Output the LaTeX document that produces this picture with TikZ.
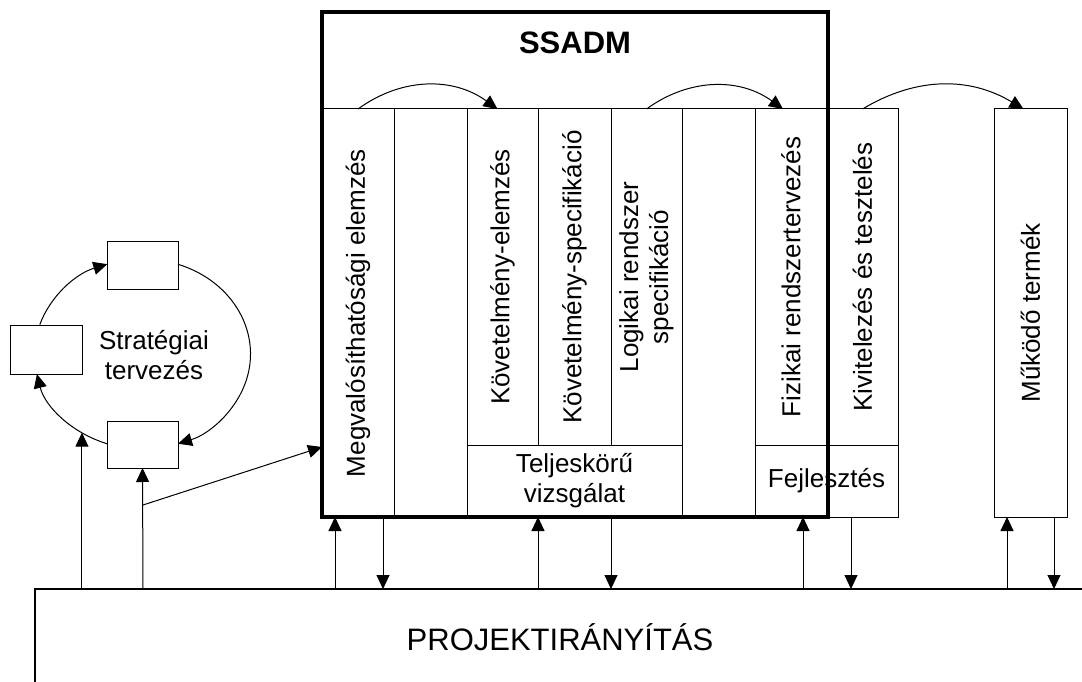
\documentclass[tikz,border=0pt]{standalone}
\usepackage{fontspec}
\setmainfont{Liberation Sans}
\usetikzlibrary{arrows.meta}
\begin{document}
\begin{tikzpicture}[x=1pt,y=1pt,
  cell/.style={draw, line width=1pt, anchor=north west, inner sep=0pt, outer sep=0pt},
  sbox/.style={draw, line width=1pt, inner sep=0pt, outer sep=0pt},
  lbl/.style={font=\fontsize{26}{30}\selectfont, align=center, inner sep=0pt},
  arr/.style={line width=1pt, -{Triangle[length=14pt,width=13pt]}},
  ]
\useasboundingbox (0,0) rectangle (1082,-682);
\clip (0,0) rectangle (1082,-682);
\fill[white] (0,0) rectangle (1082,-682);

% phase columns
\node[cell, minimum width=72pt, minimum height=408pt] (c1) at (322,-109) {};
\node[cell, minimum width=73pt, minimum height=408pt] (c2) at (394,-109) {};
\node[cell, minimum width=71pt, minimum height=336pt] (c3) at (467,-109) {};
\node[cell, minimum width=73pt, minimum height=336pt] (c4) at (538,-109) {};
\node[cell, minimum width=71pt, minimum height=336pt] (c5) at (611,-109) {};
\node[cell, minimum width=215pt, minimum height=72pt] (tv) at (467,-445) {};
\node[cell, minimum width=73pt, minimum height=408pt] (c6) at (682,-109) {};
\node[cell, minimum width=72pt, minimum height=336pt] (c7) at (755,-109) {};
\node[cell, minimum width=71pt, minimum height=336pt] (c8) at (827,-109) {};
\node[cell, minimum width=143pt, minimum height=72pt] (fj) at (755,-445) {};
\node[cell, minimum width=73pt, minimum height=408pt] (mt) at (994,-109) {};

% column labels
\node[lbl, rotate=90] at (c1.center) {Megvalósíthatósági elemzés};
\node[lbl, rotate=90] at (c3.center) {Követelmény-elemzés};
\node[lbl, rotate=90] at (c4.center) {Követelmény-specifikáció};
\node[lbl, rotate=90] at (c5.center) {Logikai rendszer\\specifikáció};
\node[lbl] at (tv.center) {Teljeskörű\\vizsgálat};
\node[lbl, rotate=90] at (c7.center) {Fizikai rendszertervezés};
\node[lbl, rotate=90] at (c8.center) {Kivitelezés és tesztelés};
\node[lbl] at (fj.center) {Fejlesztés};
\node[lbl, rotate=90] at (mt.center) {Működő termék};

% SSADM frame
\node[draw, line width=3.5pt, anchor=north west, minimum width=506pt,
      minimum height=505pt, inner sep=0pt, outer sep=0pt] (ssadm) at (322,-12) {};
\node[font=\bfseries\fontsize{31}{36}\selectfont, inner sep=0pt] (title) at (575,-42.5) {SSADM};

% transitions between phases
\draw[arr] (c1.north) to[bend left=36] ([xshift=-5pt]c3.north);
\draw[arr] (c5.north) to[bend left=36] ([xshift=-8pt]c7.north);
\draw[arr] (c8.north) to[bend left=31] ([xshift=-7pt]mt.north);

% project management
\node[draw, line width=1.5pt, minimum width=1050pt, minimum height=96pt,
      inner sep=0pt, outer sep=0pt, font=\fontsize{31}{36}\selectfont] (pm) at (560,-637) {PROJEKTIRÁNYÍTÁS};

% strategic planning cycle
\node[sbox, minimum width=71pt, minimum height=48pt] (stop) at (142.5,-265) {};
\node[sbox, minimum width=72pt, minimum height=49pt] (smid) at (46,-349.5) {};
\node[sbox, minimum width=71pt, minimum height=47pt] (sbot) at (142.5,-444.5) {};
\node[lbl] (strat) at (154,-355) {Stratégiai\\tervezés};
\coordinate (C) at (142.5,-354);
\draw[arr] ([shift={(162:108pt and 95pt)}]C) arc[start angle=162, end angle=109, x radius=108pt, y radius=95pt];
\draw[arr] ([shift={(70.8:108pt and 95pt)}]C) arc[start angle=70.8, end angle=-70.8, x radius=108pt, y radius=95pt];
\draw[arr] ([shift={(250.8:108pt and 95pt)}]C) arc[start angle=250.8, end angle=192.2, x radius=108pt, y radius=95pt];
\coordinate (cyc) at ([shift={(235.9:108pt and 95pt)}]C);

% vertical links to project management
\coordinate (xa) at (82,0);
\coordinate (xb) at (143,0);
\coordinate (x1) at (335,0);
\coordinate (x2) at (383,0);
\coordinate (x3) at (538,0);
\coordinate (x4) at (611,0);
\coordinate (x5) at (803,0);
\coordinate (x6) at (851,0);
\coordinate (x7) at (1007,0);
\coordinate (x8) at (1054,0);
\coordinate (yj) at (0,-447);

\draw[arr] (pm.north -| cyc) -- (cyc);
\draw[arr] (pm.north -| xb) -- (sbot.south);
\coordinate (jn) at (143,-505);
\draw[arr] (jn) -- (ssadm.west |- yj);

\draw[arr] (pm.north -| x1) -- (ssadm.south -| x1);
\draw[arr] (ssadm.south -| x2) -- (pm.north -| x2);
\draw[arr] (pm.north -| x3) -- (tv.south -| x3);
\draw[arr] (tv.south -| x4) -- (pm.north -| x4);
\draw[arr] (pm.north -| x5) -- (ssadm.south -| x5);
\draw[arr] (fj.south -| x6) -- (pm.north -| x6);
\draw[arr] (pm.north -| x7) -- (mt.south -| x7);
\draw[arr] (mt.south -| x8) -- (pm.north -| x8);
\end{tikzpicture}
\end{document}
